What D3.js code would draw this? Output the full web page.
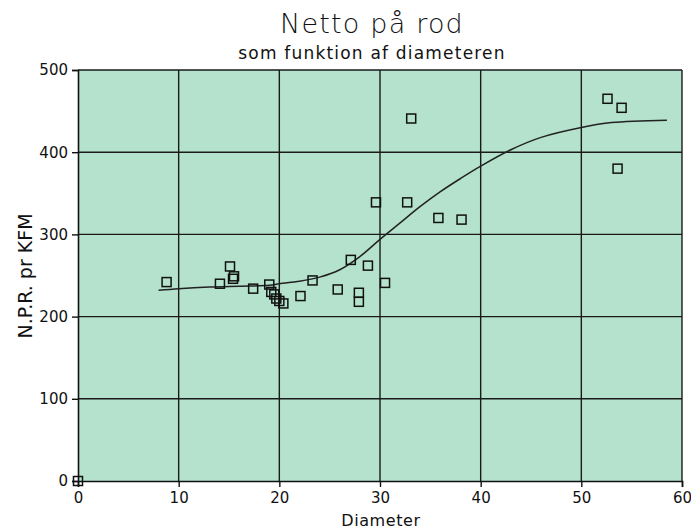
<!DOCTYPE html>
<html>
<head>
<style>
body { margin: 0; background: #fff; }
text { font-family: "DejaVu Sans", sans-serif; fill: #111; }
</style>
</head>
<body></body>
<script src="https://cdn.jsdelivr.net/npm/d3@7"></script>
<script>

var diam = [0, 8.8, 14.1, 15.1, 15.4, 15.5, 17.4, 19.0, 19.2, 19.5, 19.7, 20.0, 20.4,
            22.1, 23.3, 25.8, 27.1, 27.9, 27.9, 28.8, 29.6, 30.5, 32.7, 33.1,
            35.8, 38.1, 52.6, 53.6, 54.0];
var npr  = [0, 242, 240, 261, 246, 249, 234, 239, 230, 227, 222, 219, 216,
            225, 244, 233, 269, 229, 218, 262, 339, 241, 339, 441,
            320, 318, 465, 380, 454];

// fitted curve
var fitX = [8, 10, 13, 16, 19, 20, 22, 24, 26, 28, 30, 32, 34, 36, 38, 40, 43, 46, 50, 53, 58.5];
var fitY = [232, 234, 236, 237, 238, 240, 243, 248, 257, 273, 294, 314, 334, 352, 368, 383, 403, 418, 430, 436, 439];

var xTicks = [0, 10, 20, 30, 40, 50, 60];
var yTicks = [0, 100, 200, 300, 400, 500];

var W = 691, H = 532;
var pL = 78, pR = 682, pT = 70, pB = 481;

var svg = d3.select("body").append("svg")
    .attr("width", W).attr("height", H);

var x = d3.scaleLinear().domain([0, 60]).range([pL, pR]);
var y = d3.scaleLinear().domain([0, 500]).range([pB, pT]);

// plot background
svg.append("rect")
    .attr("x", pL).attr("y", pT)
    .attr("width", pR - pL).attr("height", pB - pT)
    .style("fill", "#b4e2cd");

// grid
svg.selectAll(".vgrid").data(xTicks.slice(1))
  .enter().append("line")
    .attr("x1", d => x(d)).attr("x2", d => x(d))
    .attr("y1", pT).attr("y2", pB)
    .style("stroke", "#1a1a1a").style("stroke-width", 1.4);
svg.selectAll(".hgrid").data(yTicks.slice(1))
  .enter().append("line")
    .attr("x1", pL).attr("x2", pR)
    .attr("y1", d => y(d)).attr("y2", d => y(d))
    .style("stroke", "#1a1a1a").style("stroke-width", 1.4);

// axes
var xAxis = d3.axisBottom(x).tickValues(xTicks).tickSize(6).tickPadding(5);
var yAxis = d3.axisLeft(y).tickValues(yTicks).tickSize(6).tickPadding(4);

var gx = svg.append("g").attr("transform", "translate(0," + pB + ")").call(xAxis);
var gy = svg.append("g").attr("transform", "translate(" + pL + ",0)").call(yAxis);
[gx, gy].forEach(function(g) {
  g.select(".domain").style("stroke", "#111").style("stroke-width", 1.6);
  g.selectAll(".tick line").style("stroke", "#111").style("stroke-width", 1.4);
  g.selectAll(".tick text").style("font-size", "15px").style("fill", "#111")
    .attr("font-family", "DejaVu Sans, sans-serif");
});

// fitted curve
var line = d3.line()
    .x(d => x(d[0])).y(d => y(d[1]))
    .curve(d3.curveCatmullRom.alpha(0.5));
svg.append("path")
    .datum(d3.zip(fitX, fitY))
    .attr("d", line)
    .style("fill", "none").style("stroke", "#222").style("stroke-width", 1.5);

// observation squares
svg.selectAll(".pt").data(d3.zip(diam, npr))
  .enter().append("rect")
    .attr("x", d => x(d[0]) - 4.5).attr("y", d => y(d[1]) - 4.5)
    .attr("width", 9).attr("height", 9)
    .style("fill", "none").style("stroke", "#111").style("stroke-width", 1.5);

// titles
svg.append("text").attr("x", 372).attr("y", 33)
    .attr("text-anchor", "middle").style("font-size", "27px").style("font-weight", "300")
    .style("letter-spacing", "1.2px")
    .text("Netto på rod");
svg.append("text").attr("x", 372).attr("y", 59)
    .attr("text-anchor", "middle").style("font-size", "17px")
    .style("letter-spacing", "1.2px")
    .text("som funktion af diameteren");
svg.append("text").attr("x", 381).attr("y", 526)
    .attr("text-anchor", "middle").style("font-size", "16px")
    .style("letter-spacing", "0.6px")
    .text("Diameter");
svg.append("text")
    .attr("transform", "translate(32,276) rotate(-90)")
    .attr("text-anchor", "middle").style("font-size", "19px")
    .text("N.P.R. pr KFM");

</script>
</html>
